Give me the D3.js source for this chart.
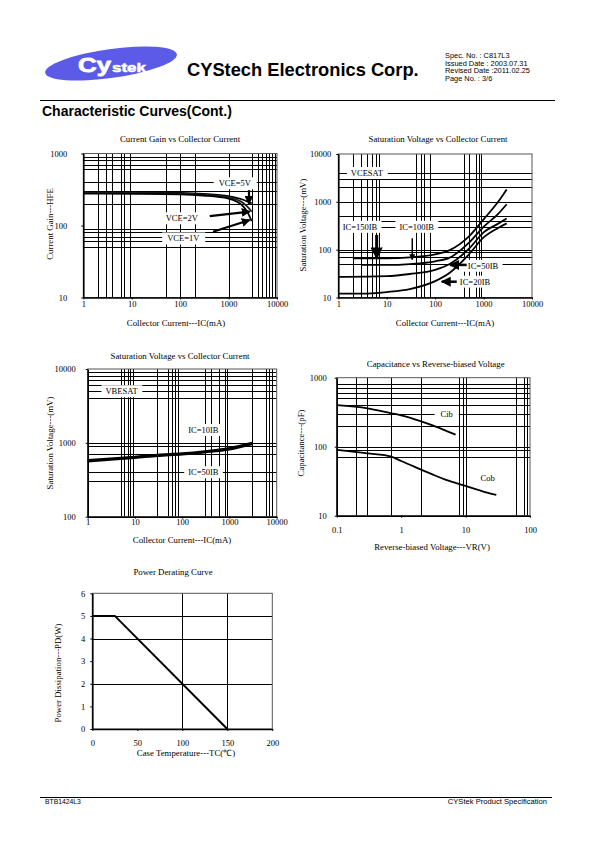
<!DOCTYPE html>
<html><head><meta charset="utf-8">
<script src="https://cdn.jsdelivr.net/npm/d3@7/dist/d3.min.js"></script>
<style>
body{margin:0;background:#fff}
svg{display:block}
</style></head><body>
<svg id="page" width="595" height="842"></svg>
<script>
// ---------------- DATA ----------------
// Chart 1: Current Gain vs Collector Current
const hfeIC   = [1, 10, 100, 300, 1000, 2000, 2500, 3000];
const hfeVce5 = [292, 288, 283, 275, 255, 228, 215, 203];
const hfeVce2 = [285, 283, 278, 268, 245, 205, 180, 155];
const hfeVce1 = [278, 276, 271, 261, 237, 185, 150, 115];
const hfeXGrid = [2, 3, 4, 6, 7, 9, 50, 100, 200, 1000, 3000, 4000, 5000, 6000, 7000, 8000, 9000];
const hfeYGrid = [50, 60, 70, 80, 90, 200, 300, 400, 600, 700, 800, 900];
const hfeXTicks = [1, 10, 100, 1000, 10000];
const hfeYTicks = [10, 100, 1000];

// Chart 2: VCE(sat) vs Collector Current
const vceIC_A = [2, 10, 30, 100, 200, 500, 1000, 2000, 3000];
const vceA    = [66, 66, 69, 80, 98, 190, 430, 1000, 1820];
const vceIC_B = [3, 10, 30, 100, 200, 500, 1000, 2000, 3000];
const vceB    = [48, 48, 50, 57, 68, 140, 300, 560, 890];
const vceIC_C = [1, 10, 30, 100, 200, 500, 1000, 2000, 3000];
const vceC    = [27, 28, 31, 38, 50, 105, 230, 350, 450];
const vceIC_D = [1, 3, 10, 30, 100, 200, 500, 1000, 2000, 3000];
const vceD    = [12, 12, 13, 15, 22, 33, 80, 180, 285, 355];
const vceXGrid = [2, 3, 4, 5, 6, 7, 40, 50, 60, 80, 400, 500, 700, 800, 900];
const vceYGrid = [50, 70, 90, 100, 300, 400, 500, 1000, 2000, 3000, 4000];
const vceXTicks = [1, 10, 100, 1000, 10000];
const vceYTicks = [10, 100, 1000, 10000];

// Chart 3: VBE(sat) vs Collector Current
const vbeIC   = [1, 3, 10, 30, 100, 300, 1000, 3000];
const vbe10IB = [585, 612, 648, 688, 720, 770, 850, 1000];
const vbe50IB = [560, 590, 625, 665, 700, 745, 815, 960];
const vbeXGrid = [5, 6, 7, 8, 9, 30, 50, 60, 70, 80, 300, 400, 600, 800, 900, 3000, 6000, 7000, 8000];
const vbeYGrid = [300, 400, 700, 900, 1000, 4000, 5000, 6000, 7000, 8000, 9000];
const vbeXTicks = [1, 10, 100, 1000, 10000];
const vbeYTicks = [100, 1000, 10000];

// Chart 4: Capacitance vs Reverse-biased Voltage
const cibVR = [0.1, 0.3, 0.7, 1, 2, 3, 5, 7];
const cib   = [400, 360, 305, 285, 235, 205, 170, 150];
const cobVR = [0.1, 0.3, 0.7, 1, 2, 3, 5, 10, 20, 30];
const cob   = [90, 80, 72, 62, 47, 40, 33, 27, 22, 20];
const capXGrid = [0.2, 0.3, 0.7, 2, 8, 9, 10, 60, 80, 90];
const capYGrid = [70, 90, 100, 200, 300, 400, 500, 600, 700, 800];
const capXTicks = [0.1, 1, 10, 100];
const capYTicks = [10, 100, 1000];

// Chart 5: Power Derating Curve
const pdTC = [0, 25, 150];
const pdW  = [5, 5, 0];
const pdXGrid = [100, 150];
const pdYGrid = [2, 4, 5];
const pdXTicks = [0, 50, 100, 150, 200];
const pdYTicks = [0, 1, 2, 3, 4, 5, 6];

// ---------------- DRAWING ----------------
const SERIF = '"Liberation Serif","Times New Roman",serif';
const SANS = '"Liberation Sans",Arial,Helvetica,sans-serif';
const svg = d3.select("#page");

const defs = svg.append("defs");
defs.append("marker").attr("id", "ah").attr("viewBox", "0 0 10 10")
  .attr("refX", 9).attr("refY", 5).attr("markerWidth", 4).attr("markerHeight", 4)
  .attr("orient", "auto")
  .append("path").attr("d", "M0,0 L10,5 L0,10 z").attr("fill", "#000");

// Header logo
svg.append("ellipse").attr("cx", 111).attr("cy", 63.5).attr("rx", 66.5).attr("ry", 14.5)
  .attr("transform", "rotate(-8,111,63.5)").attr("fill", "#5b5be8");
svg.append("text").attr("x", 78).attr("y", 72).attr("font-family", SANS).attr("font-weight", "900")
  .attr("font-size", 21).attr("fill", "#fff").attr("textLength", 33).attr("lengthAdjust", "spacingAndGlyphs")
  .attr("stroke", "#fff").attr("stroke-width", 0.8).text("Cy");
svg.append("text").attr("x", 112).attr("y", 72).attr("font-family", SANS).attr("font-weight", "900")
  .attr("font-size", 13).attr("fill", "#fff").attr("textLength", 34).attr("lengthAdjust", "spacingAndGlyphs")
  .attr("stroke", "#fff").attr("stroke-width", 0.5).text("stek");
svg.append("text").attr("x", 187).attr("y", 76).attr("font-family", SANS).attr("font-weight", "bold")
  .attr("font-size", 18.3).attr("fill", "#000").text("CYStech Electronics Corp.");
const specLines = ["Spec. No. : C817L3", "Issued Date : 2003.07.31", "Revised Date :2011.02.25", "Page No. : 3/6"];
svg.append("g").selectAll("text").data(specLines).join("text")
  .attr("x", 445).attr("y", (d, i) => 58 + i * 7.5).attr("font-family", SANS).attr("font-size", 7.4)
  .attr("fill", "#000").text(d => d);
svg.append("line").attr("x1", 40).attr("x2", 555).attr("y1", 100.5).attr("y2", 100.5)
  .attr("stroke", "#000").attr("stroke-width", 1.2);
svg.append("text").attr("x", 42).attr("y", 116).attr("font-family", SANS).attr("font-weight", "bold")
  .attr("font-size", 14).attr("fill", "#000").text("Characteristic Curves(Cont.)");

// Footer
svg.append("line").attr("x1", 40).attr("x2", 552).attr("y1", 797.5).attr("y2", 797.5)
  .attr("stroke", "#000").attr("stroke-width", 1);
svg.append("text").attr("x", 45).attr("y", 804).attr("font-family", SANS).attr("font-size", 6.8)
  .text("BTB1424L3");
svg.append("text").attr("x", 547).attr("y", 804).attr("text-anchor", "end").attr("font-family", SANS)
  .attr("font-size", 7.6).text("CYStek Product Specification");

const px = v => Math.round(v) + 0.5;

function drawChart(c) {
  const g = svg.append("g");
  const x = (c.xLog ? d3.scaleLog() : d3.scaleLinear()).domain(c.xDomain).range([c.left, c.right]);
  const y = (c.yLog ? d3.scaleLog() : d3.scaleLinear()).domain(c.yDomain).range([c.bottom, c.top]);

  // grid
  g.append("g").selectAll("line").data(c.xGrid).join("line")
    .attr("x1", d => px(x(d))).attr("x2", d => px(x(d)))
    .attr("y1", c.top).attr("y2", c.bottom).attr("stroke", "#000").attr("stroke-width", 1);
  g.append("g").selectAll("line").data(c.yGrid).join("line")
    .attr("y1", d => px(y(d))).attr("y2", d => px(y(d)))
    .attr("x1", c.left).attr("x2", c.right).attr("stroke", "#000").attr("stroke-width", 1);

  // frame
  g.append("rect").attr("x", c.left).attr("y", c.top).attr("width", c.right - c.left)
    .attr("height", c.bottom - c.top).attr("fill", "none").attr("stroke", "#555").attr("stroke-width", 1);

  const boxLayer = g.append("g");

  // curves
  const line = d3.line().x(d => x(d[0])).y(d => y(d[1])).curve(c.curve || d3.curveMonotoneX);
  c.series.forEach(s => {
    g.append("path").datum(d3.zip(s.x, s.y)).attr("d", line)
      .attr("fill", "none").attr("stroke", s.color || "#000").attr("stroke-width", s.width || 2)
      .attr("stroke-linejoin", "round");
  });

  // arrows
  (c.arrows || []).forEach(a => {
    g.append("line").attr("x1", x(a.x1)).attr("y1", y(a.y1)).attr("x2", x(a.x2)).attr("y2", y(a.y2))
      .attr("stroke", "#000").attr("stroke-width", a.w || 2).attr("marker-end", "url(#ah)");
  });

  // labels with white boxes
  (c.labels || []).forEach(l => {
    const t = g.append("text").attr("x", x(l.x)).attr("y", y(l.y)).attr("dy", "0.35em")
      .attr("text-anchor", "middle").attr("font-family", SERIF).attr("font-size", 8.5).text(l.text);
    const b = t.node().getBBox();
    const pad = l.pad == null ? 4 : l.pad;
    boxLayer.append("rect").attr("x", b.x - pad).attr("y", b.y - 1).attr("width", b.width + 2 * pad)
      .attr("height", b.height + 2).attr("fill", "#fff");
  });

  // axes
  const fmt = c.fmt || (d => String(d));
  const ax = g.append("g").attr("transform", `translate(0,${c.bottom})`)
    .call(d3.axisBottom(x).tickValues(c.xTicks).tickFormat(fmt).tickSizeInner(2).tickSizeOuter(0).tickPadding(c.xPad));
  const ay = g.append("g").attr("transform", `translate(${c.left},0)`)
    .call(d3.axisLeft(y).tickValues(c.yTicks).tickFormat(fmt).tickSizeInner(2).tickSizeOuter(0).tickPadding(c.yPad));
  [ax, ay].forEach(a => {
    a.select(".domain").attr("stroke", "#000").attr("stroke-width", 1.6);
    a.selectAll("text").attr("font-family", SERIF).attr("font-size", 8.5).attr("fill", "#000");
    a.selectAll(".tick line").attr("stroke", "#000");
  });

  // titles
  g.append("text").attr("x", c.titleX).attr("y", c.titleY).attr("text-anchor", "middle")
    .attr("font-family", SERIF).attr("font-size", 8.8).text(c.title);
  g.append("text").attr("x", c.xtX).attr("y", c.xtY).attr("text-anchor", "middle")
    .attr("font-family", SERIF).attr("font-size", 8.8).text(c.xTitle);
  g.append("text").attr("transform", `translate(${c.ytX},${c.ytY}) rotate(-90)`).attr("dy", "0.35em")
    .attr("text-anchor", "middle").attr("font-family", SERIF).attr("font-size", 8.8).text(c.yTitle);
}

// Chart 1
drawChart({
  left: 83.3, right: 277, top: 153.5, bottom: 297.5, xLog: true, yLog: true,
  xDomain: [1, 10000], yDomain: [10, 1000], xGrid: hfeXGrid, yGrid: hfeYGrid,
  xTicks: hfeXTicks, yTicks: hfeYTicks, xPad: 1, yPad: 14,
  series: [
    { x: hfeIC, y: hfeVce5, width: 1.8 },
    { x: hfeIC, y: hfeVce2, width: 1.8, color: "#222" },
    { x: hfeIC, y: hfeVce1, width: 1.8 }
  ],
  labels: [
    { x: 1340, y: 386, text: "VCE=5V", pad: 5 },
    { x: 108, y: 126, text: "VCE=2V" },
    { x: 116, y: 66, text: "VCE=1V", pad: 5 }
  ],
  arrows: [
    { x1: 2640, y1: 310, x2: 2640, y2: 199, w: 2.2 },
    { x1: 408, y1: 135, x2: 2730, y2: 156, w: 2.2 },
    { x1: 477, y1: 82, x2: 2730, y2: 119, w: 2.2 }
  ],
  title: "Current Gain vs Collector Current", titleX: 180, titleY: 142,
  xTitle: "Collector Current---IC(mA)", xtX: 176, xtY: 326,
  yTitle: "Current Gain---HFE", ytX: 50, ytY: 224
});

// Chart 2
drawChart({
  left: 338.3, right: 532, top: 154, bottom: 297.5, xLog: true, yLog: true,
  xDomain: [1, 10000], yDomain: [10, 10000], xGrid: vceXGrid, yGrid: vceYGrid,
  xTicks: vceXTicks, yTicks: vceYTicks, xPad: 1, yPad: 5,
  series: [
    { x: vceIC_A, y: vceA, width: 1.8 },
    { x: vceIC_B, y: vceB, width: 1.8 },
    { x: vceIC_C, y: vceC, width: 1.8 },
    { x: vceIC_D, y: vceD, width: 1.8 }
  ],
  labels: [
    { x: 3.9, y: 4000, text: "VCESAT" },
    { x: 2.8, y: 300, text: "IC=150IB" },
    { x: 41.6, y: 300, text: "IC=100IB" },
    { x: 973, y: 46, text: "IC=50IB" },
    { x: 665, y: 21.4, text: "IC=20IB" }
  ],
  arrows: [
    { x1: 6.2, y1: 203, x2: 6.2, y2: 66, w: 3 },
    { x1: 33.7, y1: 173, x2: 33.7, y2: 62, w: 1.5 },
    { x1: 448, y1: 48, x2: 203, y2: 48, w: 2.5 },
    { x1: 279, y1: 21.4, x2: 137, y2: 21.4, w: 2.5 }
  ],
  title: "Saturation Voltage vs Collector Current", titleX: 438, titleY: 142,
  xTitle: "Collector Current---IC(mA)", xtX: 445, xtY: 326,
  yTitle: "Saturation Voltage---(mV)", ytX: 303.3, ytY: 225
});

// Chart 3
drawChart({
  left: 87.7, right: 276.7, top: 369, bottom: 516.7, xLog: true, yLog: true,
  xDomain: [1, 10000], yDomain: [100, 10000], xGrid: vbeXGrid, yGrid: vbeYGrid,
  xTicks: vbeXTicks, yTicks: vbeYTicks, xPad: 0, yPad: 10,
  series: [
    { x: vbeIC, y: vbe10IB, width: 2.2 },
    { x: vbeIC, y: vbe50IB, width: 2.2 }
  ],
  labels: [
    { x: 5.2, y: 5000, text: "VBESAT" },
    { x: 280, y: 1490, text: "IC=10IB" },
    { x: 280, y: 400, text: "IC=50IB" }
  ],
  title: "Saturation Voltage vs Collector Current", titleX: 180, titleY: 358.5,
  xTitle: "Collector Current---IC(mA)", xtX: 182, xtY: 543,
  yTitle: "Saturation Voltage---(mV)", ytX: 50, ytY: 443
});

// Chart 4
drawChart({
  left: 336.7, right: 530, top: 377.7, bottom: 515.7, xLog: true, yLog: true,
  xDomain: [0.1, 100], yDomain: [10, 1000], xGrid: capXGrid, yGrid: capYGrid,
  xTicks: capXTicks, yTicks: capYTicks, xPad: 9, yPad: 8,
  series: [
    { x: cibVR, y: cib, width: 1.8 },
    { x: cobVR, y: cob, width: 1.8 }
  ],
  labels: [
    { x: 5.1, y: 300, text: "Cib", pad: 6 },
    { x: 22, y: 35, text: "Cob", pad: 4 }
  ],
  title: "Capacitance vs Reverse-biased Voltage", titleX: 435.7, titleY: 367,
  xTitle: "Reverse-biased Voltage---VR(V)", xtX: 432, xtY: 550,
  yTitle: "Capacitance---(pF)", ytX: 301, ytY: 443
});

// Chart 5
drawChart({
  left: 92.3, right: 272.3, top: 593.3, bottom: 729, xLog: false, yLog: false,
  xDomain: [0, 200], yDomain: [0, 6], xGrid: pdXGrid, yGrid: pdYGrid,
  xTicks: pdXTicks, yTicks: pdYTicks, xPad: 9, yPad: 5,
  curve: d3.curveLinear,
  series: [{ x: pdTC, y: pdW, width: 2 }],
  title: "Power Derating Curve", titleX: 173, titleY: 574.5,
  xTitle: "Case Temperature---TC(\u2103)", xtX: 186, xtY: 755.5,
  yTitle: "Power Dissipation---PD(W)", ytX: 58.3, ytY: 673
});
</script>
</body></html>
